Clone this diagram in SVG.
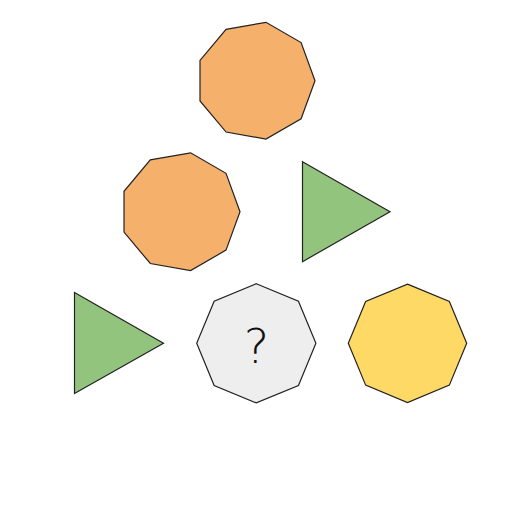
<svg xmlns="http://www.w3.org/2000/svg" width="512" height="512" viewBox="0 0 512 512">
<style>
.s{stroke:#222;stroke-width:1.2;stroke-linejoin:miter}
.o{fill:#F5B06B}
.g{fill:#93C47D}
.y{fill:#FFD966}
.q{fill:#EEEEEE}
.t{font-family:"DejaVu Sans",sans-serif;font-weight:200;font-size:48px;fill:#111;text-anchor:middle}
</style>
<rect width="512" height="512" fill="#fff"/>
<g id="nonagon-top"><polygon class="s o" points="315,80.7 301.1,42.6 266,22.3 226.05,29.35 200,60.4 200,101 226.05,132.05 266,139.1 301.1,118.8"/></g>
<g id="nonagon-mid"><polygon class="s o" points="240,211.7 226,173.3 190.6,152.8 150.3,159.9 124,191.25 124,232.15 150.3,263.5 190.6,270.6 226,250.1"/></g>
<g id="triangle-mid"><polygon class="s g" points="302.5,161.7 390,211.7 302.5,261.7"/></g>
<g id="triangle-left"><polygon class="s g" points="74.5,292.5 163.5,343.3 74.5,393.5"/></g>
<g id="octagon-question"><polygon class="s q" points="256.3,283.7 298.44,301.16 315.9,343.3 298.44,385.44 256.3,402.9 214.16,385.44 196.7,343.3 214.16,301.16"/><text class="t" x="256.5" y="363">?</text></g>
<g id="octagon-yellow"><polygon class="s y" points="407.5,284.1 449.36,301.44 466.7,343.3 449.36,385.16 407.5,402.5 365.64,385.16 348.3,343.3 365.64,301.44"/></g>
<g id="connectors"></g>
</svg>
